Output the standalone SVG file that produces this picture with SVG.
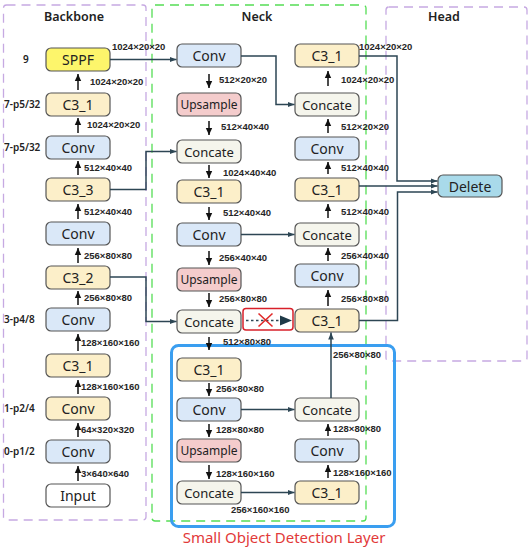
<svg xmlns="http://www.w3.org/2000/svg" width="532" height="549" viewBox="0 0 532 549">
<style>
.nd{stroke:#555;stroke-width:1.2}
.t{font-family:"Noto Sans","Liberation Sans",sans-serif;font-size:14px;fill:#222;text-anchor:middle;dominant-baseline:central}
.ts{font-size:12px}
.tc{font-size:13px}
.lb{font-family:"Liberation Sans",Arial,sans-serif;font-size:9.5px;font-weight:bold;fill:#262626}
.side{font-family:"Noto Sans","Liberation Sans",sans-serif;font-size:10px;font-weight:600;fill:#222}
.hd{font-family:"Noto Sans","Liberation Sans",sans-serif;font-size:12.5px;font-weight:600;fill:#222;text-anchor:middle}
.c3{fill:#fcefc9}.cv{fill:#dae8f8}.up{fill:#f4cccc}.cc{fill:#f5f5ec}.sp{fill:#fdf56b}.in{fill:#fff}.de{fill:#a9daea}
.con{fill:none;stroke:#2d4654;stroke-width:1.5}
.sa{fill:none;stroke:#111;stroke-width:1.5}
</style>
<defs>
<marker id="ah" markerWidth="8" markerHeight="8" refX="7" refY="4" orient="auto" markerUnits="userSpaceOnUse"><path d="M0,1.2 L7,4 L0,6.8 z" fill="#2d4654"/></marker>
<marker id="as" markerWidth="8" markerHeight="8" refX="7" refY="4" orient="auto" markerUnits="userSpaceOnUse"><path d="M0,0.8 L7,4 L0,7.2 z" fill="#111"/></marker>
</defs>

<!-- region boxes -->
<g id="regions">
<rect x="3.5" y="5" width="142.5" height="515" fill="none" stroke="#c6a9e2" stroke-width="1.3" stroke-dasharray="9,6" rx="3"/>
<rect x="152" y="5" width="214" height="516" fill="none" stroke="#55dd55" stroke-width="1.3" stroke-dasharray="9,6" rx="3"/>
<rect x="386" y="7" width="141" height="354" fill="none" stroke="#c6a9e2" stroke-width="1.3" stroke-dasharray="9,6" rx="3"/>
<rect x="171.5" y="345.5" width="223" height="181" fill="none" stroke="#3a9ef0" stroke-width="3" rx="7"/>
<text class="hd" x="74" y="21">Backbone</text>
<text class="hd" x="257" y="21">Neck</text>
<text class="hd" x="444" y="21">Head</text>
<text x="284" y="543" font-family="Noto Sans, Liberation Sans, sans-serif" font-size="15" fill="#e23a3a" text-anchor="middle">Small Object Detection Layer</text>
</g>

<!-- side labels -->
<g id="side-labels">
<text class="side" x="23" y="63">9</text>
<text class="side" x="4" y="108">7-p5/32</text>
<text class="side" x="4" y="151">7-p5/32</text>
<text class="side" x="4" y="323">3-p4/8</text>
<text class="side" x="4" y="412">1-p2/4</text>
<text class="side" x="4" y="455">0-p1/2</text>
</g>

<!-- Backbone nodes -->
<g id="b-sppf"><rect class="nd sp" x="46" y="48" width="64" height="23" rx="5"/><text class="t" x="78" y="59.5">SPPF</text></g>
<g id="b-c3-1a"><rect class="nd c3" x="46" y="93" width="64" height="23" rx="5"/><text class="t" x="78" y="104.5">C3_1</text></g>
<g id="b-conv-a"><rect class="nd cv" x="46" y="136" width="64" height="23" rx="5"/><text class="t" x="78" y="147.5">Conv</text></g>
<g id="b-c3-3"><rect class="nd c3" x="46" y="178" width="64" height="23" rx="5"/><text class="t" x="78" y="189.5">C3_3</text></g>
<g id="b-conv-b"><rect class="nd cv" x="46" y="222" width="64" height="23" rx="5"/><text class="t" x="78" y="233.5">Conv</text></g>
<g id="b-c3-2"><rect class="nd c3" x="46" y="266" width="64" height="23" rx="5"/><text class="t" x="78" y="277.5">C3_2</text></g>
<g id="b-conv-c"><rect class="nd cv" x="46" y="308" width="64" height="23" rx="5"/><text class="t" x="78" y="319.5">Conv</text></g>
<g id="b-c3-1b"><rect class="nd c3" x="46" y="354" width="64" height="23" rx="5"/><text class="t" x="78" y="365.5">C3_1</text></g>
<g id="b-conv-d"><rect class="nd c3" x="46" y="397" width="64" height="23" rx="5"/><text class="t" x="78" y="408.5">Conv</text></g>
<g id="b-conv-e"><rect class="nd cv" x="46" y="440" width="64" height="23" rx="5"/><text class="t" x="78" y="451.5">Conv</text></g>
<g id="b-input"><rect class="nd in" x="46" y="484" width="64" height="23" rx="5"/><text class="t" x="78" y="495.5">Input</text></g>

<!-- Neck left column -->
<g id="n-conv-a"><rect class="nd cv" x="177" y="44" width="64" height="23" rx="5"/><text class="t" x="209" y="55.5">Conv</text></g>
<g id="n-up-a"><rect class="nd up" x="177" y="93" width="64" height="23" rx="5"/><text class="t ts" x="209" y="104.5">Upsample</text></g>
<g id="n-cc-a"><rect class="nd cc" x="177" y="140" width="64" height="23" rx="5"/><text class="t tc" x="209" y="151.5">Concate</text></g>
<g id="n-c3-a"><rect class="nd c3" x="177" y="180" width="64" height="23" rx="5"/><text class="t" x="209" y="191.5">C3_1</text></g>
<g id="n-conv-b"><rect class="nd cv" x="177" y="223" width="64" height="23" rx="5"/><text class="t" x="209" y="234.5">Conv</text></g>
<g id="n-up-b"><rect class="nd up" x="177" y="268" width="64" height="23" rx="5"/><text class="t ts" x="209" y="279.5">Upsample</text></g>
<g id="n-cc-b"><rect class="nd cc" x="177" y="310" width="64" height="23" rx="5"/><text class="t tc" x="209" y="321.5">Concate</text></g>
<g id="s-c3-a"><rect class="nd c3" x="177" y="358" width="64" height="23" rx="5"/><text class="t" x="209" y="369.5">C3_1</text></g>
<g id="s-conv-a"><rect class="nd cv" x="177" y="398" width="64" height="23" rx="5"/><text class="t" x="209" y="409.5">Conv</text></g>
<g id="s-up"><rect class="nd up" x="177" y="439" width="64" height="23" rx="5"/><text class="t ts" x="209" y="450.5">Upsample</text></g>
<g id="s-cc-a"><rect class="nd cc" x="177" y="481" width="64" height="23" rx="5"/><text class="t tc" x="209" y="492.5">Concate</text></g>

<!-- Neck right column -->
<g id="r-c3-a"><rect class="nd c3" x="295" y="44" width="64" height="23" rx="5"/><text class="t" x="327" y="55.5">C3_1</text></g>
<g id="r-cc-a"><rect class="nd cc" x="295" y="93" width="64" height="23" rx="5"/><text class="t tc" x="327" y="104.5">Concate</text></g>
<g id="r-conv-a"><rect class="nd cv" x="295" y="137" width="64" height="23" rx="5"/><text class="t" x="327" y="148.5">Conv</text></g>
<g id="r-c3-b"><rect class="nd c3" x="295" y="178" width="64" height="23" rx="5"/><text class="t" x="327" y="189.5">C3_1</text></g>
<g id="r-cc-b"><rect class="nd cc" x="295" y="223" width="64" height="23" rx="5"/><text class="t tc" x="327" y="234.5">Concate</text></g>
<g id="r-conv-b"><rect class="nd cv" x="295" y="264" width="64" height="23" rx="5"/><text class="t" x="327" y="275.5">Conv</text></g>
<g id="r-c3-c"><rect class="nd c3" x="295" y="309" width="64" height="23" rx="5"/><text class="t" x="327" y="320.5">C3_1</text></g>
<g id="s-cc-b"><rect class="nd cc" x="295" y="398" width="64" height="23" rx="5"/><text class="t tc" x="327" y="409.5">Concate</text></g>
<g id="s-conv-b"><rect class="nd cv" x="295" y="439" width="64" height="23" rx="5"/><text class="t" x="327" y="450.5">Conv</text></g>
<g id="s-c3-b"><rect class="nd c3" x="295" y="481" width="64" height="23" rx="5"/><text class="t" x="327" y="492.5">C3_1</text></g>

<!-- Head -->
<g id="h-delete"><rect class="nd de" x="438" y="175" width="64" height="22" rx="5"/><text class="t" x="470" y="186">Delete</text></g>

<!-- Removed link -->
<g id="removed-link">
<rect x="243" y="308.5" width="50" height="21.5" rx="3" fill="#fff" stroke="#d8202a" stroke-width="1.5"/>
<path d="M246 320.5 H281" stroke="#2d4654" stroke-width="1.5" stroke-dasharray="2.5,2.5" fill="none"/>
<path d="M280 315.5 L292 320.5 L280 325.5 z" fill="#1f3a48"/>
<path d="M258.5 313.5 L272.5 326.5 M272.5 313.5 L258.5 326.5" stroke="#e02a2a" stroke-width="1.6" fill="none"/>
</g>

<!-- connectors -->
<g id="connectors">
<path class="con" d="M110 59.5 H176.5" marker-end="url(#ah)"/>
<path class="con" d="M241 56 H276 V104.5 H294.5" marker-end="url(#ah)"/>
<path class="con" d="M110 189.5 H146 V151.5 H176.5" marker-end="url(#ah)"/>
<path class="con" d="M110 277 H146 V321.5 H176.5" marker-end="url(#ah)"/>
<path class="con" d="M241 234.5 H294.5" marker-end="url(#ah)"/>
<path class="con" d="M331 398 V332.5" marker-end="url(#ah)"/>
<path class="con" d="M241 409.5 H294.5" marker-end="url(#ah)"/>
<path class="con" d="M241 492.5 H294.5" marker-end="url(#ah)"/>
<path class="con" d="M359 56 H397 V181 H437.5" marker-end="url(#ah)"/>
<path class="con" d="M359 186 H437.5" marker-end="url(#ah)"/>
<path class="con" d="M359 320.5 H397.5 V192 H437.5" marker-end="url(#ah)"/>

<!-- backbone short up arrows -->
<path class="sa" d="M78 90 V74" marker-end="url(#as)"/>
<path class="sa" d="M78 133 V118" marker-end="url(#as)"/>
<path class="sa" d="M78 175 V161" marker-end="url(#as)"/>
<path class="sa" d="M78 219 V204" marker-end="url(#as)"/>
<path class="sa" d="M78 263 V248" marker-end="url(#as)"/>
<path class="sa" d="M78 305 V291" marker-end="url(#as)"/>
<path class="sa" d="M78 351 V334" marker-end="url(#as)"/>
<path class="sa" d="M78 394 V380" marker-end="url(#as)"/>
<path class="sa" d="M78 437 V423" marker-end="url(#as)"/>
<path class="sa" d="M78 481 V466" marker-end="url(#as)"/>

<!-- neck left down arrows -->
<path class="sa" d="M209 74 V88" marker-end="url(#as)"/>
<path class="sa" d="M209 121 V135" marker-end="url(#as)"/>
<path class="sa" d="M209 165 V178" marker-end="url(#as)"/>
<path class="sa" d="M209 207 V220" marker-end="url(#as)"/>
<path class="sa" d="M209 251 V265" marker-end="url(#as)"/>
<path class="sa" d="M209 293 V307" marker-end="url(#as)"/>
<path class="sa" d="M209 337 V350" marker-end="url(#as)"/>
<path class="sa" d="M209 383 V396" marker-end="url(#as)"/>
<path class="sa" d="M209 424 V437" marker-end="url(#as)"/>
<path class="sa" d="M209 465 V479" marker-end="url(#as)"/>

<!-- neck right up arrows -->
<path class="sa" d="M328 86 V71" marker-end="url(#as)"/>
<path class="sa" d="M328 133 V119" marker-end="url(#as)"/>
<path class="sa" d="M328 174 V162" marker-end="url(#as)"/>
<path class="sa" d="M328 218 V204" marker-end="url(#as)"/>
<path class="sa" d="M328 261 V248" marker-end="url(#as)"/>
<path class="sa" d="M328 306 V290" marker-end="url(#as)"/>
<path class="sa" d="M328 436 V424" marker-end="url(#as)"/>
<path class="sa" d="M328 478 V465" marker-end="url(#as)"/>
</g>

<!-- tensor size labels -->
<g id="labels">
<text class="lb" x="112" y="50">1024×20×20</text>
<text class="lb" x="90" y="85">1024×20×20</text>
<text class="lb" x="87" y="128">1024×20×20</text>
<text class="lb" x="84" y="171">512×40×40</text>
<text class="lb" x="84" y="215">512×40×40</text>
<text class="lb" x="84" y="259">256×80×80</text>
<text class="lb" x="84" y="301">256×80×80</text>
<text class="lb" x="81" y="346">128×160×160</text>
<text class="lb" x="81" y="390">128×160×160</text>
<text class="lb" x="81" y="433">64×320×320</text>
<text class="lb" x="81" y="477">3×640×640</text>

<text class="lb" x="219" y="83">512×20×20</text>
<text class="lb" x="221" y="130">512×40×40</text>
<text class="lb" x="223" y="176">1024×40×40</text>
<text class="lb" x="223" y="216">512×40×40</text>
<text class="lb" x="219" y="261">256×40×40</text>
<text class="lb" x="219" y="302">256×80×80</text>
<text class="lb" x="223" y="345">512×80×80</text>
<text class="lb" x="216" y="392">256×80×80</text>
<text class="lb" x="216" y="433">128×80×80</text>
<text class="lb" x="216" y="477">128×160×160</text>

<text class="lb" x="359" y="50">1024×20×20</text>
<text class="lb" x="341" y="83">1024×20×20</text>
<text class="lb" x="341" y="130">512×20×20</text>
<text class="lb" x="341" y="171">512×40×40</text>
<text class="lb" x="341" y="215">512×40×40</text>
<text class="lb" x="341" y="259">256×40×40</text>
<text class="lb" x="341" y="302">256×80×80</text>
<text class="lb" x="333" y="358">256×80×80</text>
<text class="lb" x="333" y="432">128×80×80</text>
<text class="lb" x="333" y="476">128×160×160</text>
<text class="lb" x="231" y="513">256×160×160</text>
</g>
</svg>
